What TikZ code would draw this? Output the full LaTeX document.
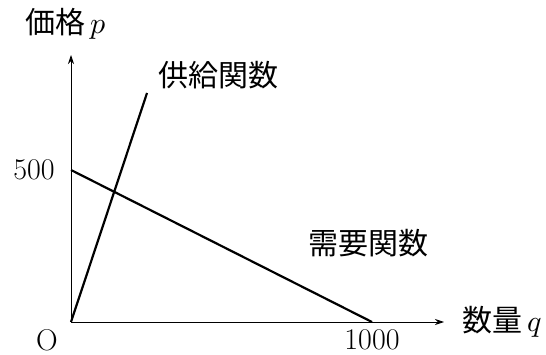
\documentclass[tikz,border=0pt]{standalone}
\usepackage{fontspec}
\usepackage{unicode-math}
\setmathfont{Latin Modern Math}
\newfontfamily\cjk{Noto Sans CJK JP}
\usetikzlibrary{arrows.meta}
\begin{document}
\begin{tikzpicture}[x=1pt,y=-1pt,
  lbl/.style={inner sep=0pt,font=\fontsize{30}{34}\selectfont},
  axis/.style={line width=0.9pt,-{Stealth[length=9pt,width=6pt]}},
  func/.style={line width=2.2pt}]
\useasboundingbox (0,0) rectangle (546,355);
\coordinate (O) at (71,322);
\coordinate (ytip) at (71,55);
\coordinate (xtip) at (444,322);
\coordinate (p500) at (71,170);
\coordinate (q1000) at (372,322);
\coordinate (send) at (147,93);
\draw[axis] (O) -- (ytip);
\draw[axis] (O) -- (xtip);
\draw[func] (O) -- (send);
\draw[func] (p500) -- (q1000);
\node[lbl] (ylab) at (66,24) {\cjk 価格\hspace{5pt}$p$};
\node[lbl] (xlab) at (502,322) {\cjk 数量\hspace{5pt}$q$};
\node[lbl] (supply) at (218,75) {\cjk 供給関数};
\node[lbl] (demand) at (368,243) {\cjk 需要関数};
\node[lbl] (olab) at (47,340) {O};
\node[lbl] (l500) at (34,170) {500};
\node[lbl] (l1000) at (372,340) {1000};
\end{tikzpicture}
\end{document}
